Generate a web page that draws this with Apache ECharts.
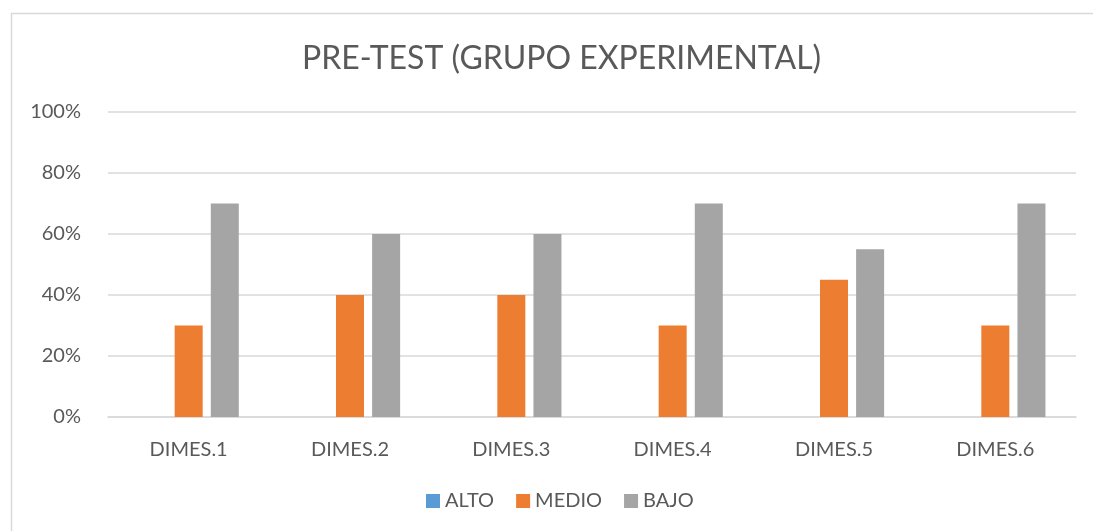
<!DOCTYPE html>
<html>
<head>
<meta charset="utf-8">
<script src="https://cdn.jsdelivr.net/npm/echarts@6/dist/echarts.min.js"></script>
<style>
html,body{margin:0;padding:0;background:#fff;}
#chart{width:1093px;height:531px;}
</style>
</head>
<body>
<div id="chart"></div>
<script>
// categorias y valores (porcentaje)
var categorias = ['DIMES.1', 'DIMES.2', 'DIMES.3', 'DIMES.4', 'DIMES.5', 'DIMES.6'];
var alto = [0, 0, 0, 0, 0, 0];
var medio = [30, 40, 40, 30, 45, 30];
var bajo = [70, 60, 60, 70, 55, 70];

var chart = echarts.init(document.getElementById('chart'));
var txt = '#595959';
var fnt = 'Lato, "Open Sans", sans-serif';

chart.setOption({
  animation: false,
  textStyle: {fontFamily: fnt},
  graphic: [{
    type: 'rect',
    shape: {x: 11.5, y: 13.5, width: 1100, height: 530},
    style: {fill: 'none', stroke: '#d9d9d9', lineWidth: 1.5},
    silent: true
  }],
  title: {
    text: 'PRE-TEST (GRUPO EXPERIMENTAL)',
    left: 297,
    top: 38,
    textStyle: {fontSize: 32, fontWeight: 'normal', color: txt, fontFamily: fnt}
  },
  legend: {
    bottom: 15,
    left: 421,
    itemWidth: 14,
    itemHeight: 14,
    itemGap: 22,
    icon: 'rect',
    textStyle: {fontSize: 20, color: txt, fontFamily: fnt},
    data: ['ALTO', 'MEDIO', 'BAJO']
  },
  grid: {left: 108, right: 17, top: 112, bottom: 114},
  xAxis: {
    type: 'category',
    data: categorias,
    axisTick: {show: false},
    axisLine: {lineStyle: {color: '#d9d9d9', width: 1.5}},
    axisLabel: {fontSize: 20, color: txt, margin: 23, fontFamily: fnt}
  },
  yAxis: {
    type: 'value',
    min: 0,
    max: 100,
    interval: 20,
    axisLine: {show: false},
    axisTick: {show: false},
    splitLine: {lineStyle: {color: '#d9d9d9', width: 1.5}},
    axisLabel: {fontSize: 20, color: txt, margin: 27, fontFamily: fnt, formatter: '{value}%'}
  },
  series: [
    {name: 'ALTO', type: 'bar', data: alto, barWidth: 28, barGap: '29%', itemStyle: {color: '#5b9bd5'}},
    {name: 'MEDIO', type: 'bar', data: medio, barWidth: 28, barGap: '29%', itemStyle: {color: '#ed7d31'}},
    {name: 'BAJO', type: 'bar', data: bajo, barWidth: 28, barGap: '29%', itemStyle: {color: '#a5a5a5'}}
  ]
});
</script>
</body>
</html>
